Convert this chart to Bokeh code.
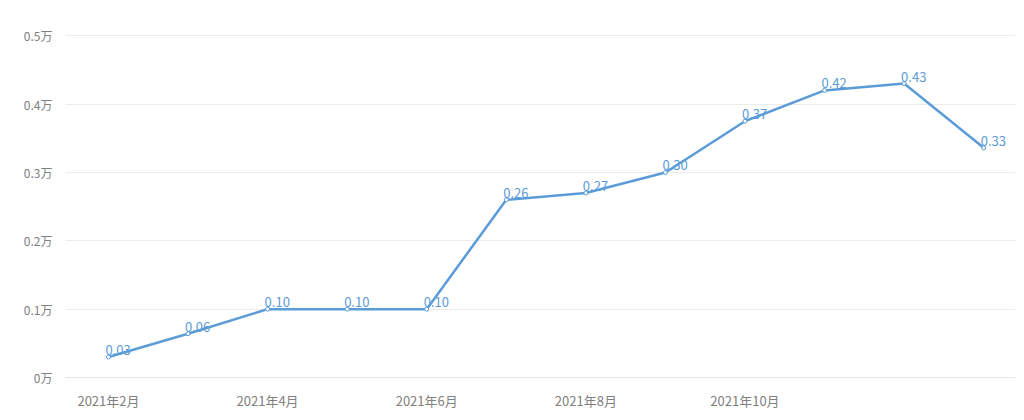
from bokeh.plotting import figure
from bokeh.models import ColumnDataSource, FixedTicker
from bokeh.core.properties import value
from bokeh.embed import file_html
from bokeh.resources import INLINE

months = ["2021年2月", "2021年3月", "2021年4月", "2021年5月", "2021年6月", "2021年7月",
          "2021年8月", "2021年9月", "2021年10月", "2021年11月", "2021年12月", "2022年1月"]
values = [0.03, 0.064, 0.10, 0.10, 0.10, 0.26, 0.27, 0.30, 0.375, 0.42, 0.43, 0.336]
labels = ["0.03", "0.06", "0.10", "0.10", "0.10", "0.26", "0.27", "0.30", "0.37", "0.42", "0.43", "0.33"]
x_tick_idx = [0, 2, 4, 6, 8]
y_ticks = [0, 0.1, 0.2, 0.3, 0.4, 0.5]
y_tick_labels = ["0万", "0.1万", "0.2万", "0.3万", "0.4万", "0.5万"]

FONT = "Noto Sans CJK SC"
BLUE = "#5b9bd8"

src = ColumnDataSource(dict(x=list(range(len(months))), y=values, lab=labels))

p = figure(width=1016, height=412, output_backend="svg", toolbar_location=None,
           x_range=(-0.54, 11.4), y_range=(0, 0.515),
           min_border_left=65, min_border_right=1, min_border_top=25, min_border_bottom=35)
p.outline_line_color = None
p.background_fill_color = "white"

p.line("x", "y", source=src, line_color=BLUE, line_width=2.5)
p.scatter("x", "y", source=src, size=4, fill_color="white", line_color=BLUE, line_width=1)
p.text("x", "y", text="lab", source=src, text_color=BLUE, text_font=value(FONT),
       text_font_size="13px", text_align="left", text_baseline="bottom",
       x_offset=-3, y_offset=-2)

p.xgrid.visible = False
p.ygrid.grid_line_color = "#ececec"
p.ygrid.grid_line_width = 1

p.yaxis.ticker = FixedTicker(ticks=y_ticks)
p.yaxis.major_label_overrides = {t: s for t, s in zip(y_ticks, y_tick_labels)}
p.yaxis.axis_line_color = None
p.yaxis.major_tick_line_color = None
p.yaxis.minor_tick_line_color = None
p.yaxis.major_label_text_color = "#808080"
p.yaxis.major_label_text_font = FONT
p.yaxis.major_label_text_font_size = "12px"
p.yaxis.major_label_standoff = 7

p.xaxis.ticker = FixedTicker(ticks=x_tick_idx)
p.xaxis.major_label_overrides = {i: months[i] for i in x_tick_idx}
p.xaxis.axis_line_color = "#e6e6e6"
p.xaxis.major_tick_line_color = None
p.xaxis.minor_tick_line_color = None
p.xaxis.major_label_text_color = "#808080"
p.xaxis.major_label_text_font = FONT
p.xaxis.major_label_text_font_size = "13px"
p.xaxis.major_label_standoff = 7

open("out.html", "w").write(file_html(p, INLINE))
